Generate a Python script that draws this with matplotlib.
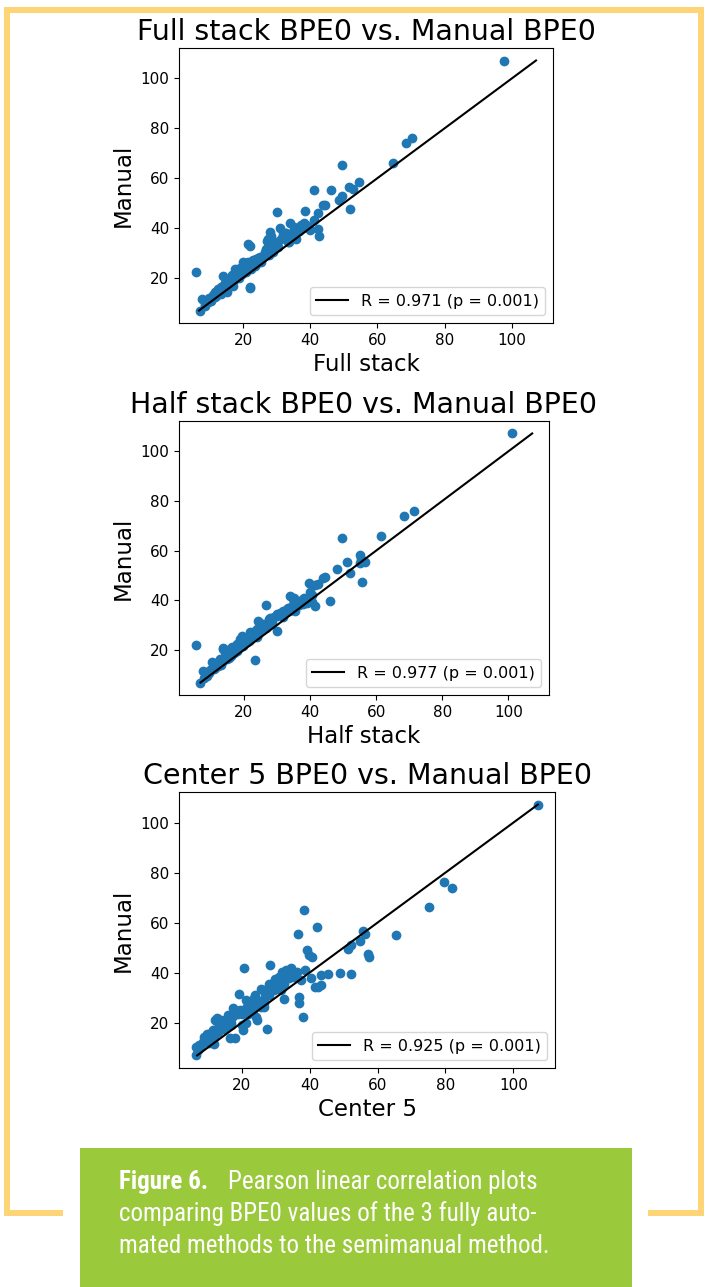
import matplotlib
matplotlib.use('Agg')
import matplotlib.pyplot as plt
from matplotlib import font_manager
from matplotlib.patches import Rectangle

plt.rcParams['font.family'] = 'DejaVu Sans'

# manual BPE0 (shared y values) and the three automated methods (x values)
manual = [
    # outliers / high values
    107.2, 76.1, 74.0, 66.1, 65.2, 58.4, 56.5, 55.5, 55.3, 55.1,
    52.8, 51.2, 49.4, 49.1, 47.5, 47.0, 46.4, 46.2,
    # 35 - 43
    43.2, 42.0, 41.9, 41.1, 41.1, 40.4, 40.4, 39.8, 39.6, 39.4,
    39.1, 39.1, 38.4, 38.3, 38.0, 37.8, 37.6, 36.9, 36.9, 36.4,
    35.7, 35.6, 35.6,
    # 27 - 35
    34.9, 34.3, 34.3, 34.3, 33.6, 33.1, 32.9, 32.9, 32.3, 31.6,
    31.1, 30.3, 30.3, 29.4, 28.9, 28.4, 28.3, 27.8, 27.8, 27.6, 27.1,
    # 19 - 27
    26.9, 26.3, 26.3, 26.3, 25.8, 25.1, 24.9, 24.9, 24.4, 23.8,
    23.6, 23.6, 23.6, 23.1, 22.4, 22.3, 22.2, 21.8, 21.6, 21.1,
    21.1, 20.9, 20.4, 20.4, 19.8, 19.6, 19.1,
    # below 19
    18.9, 18.4, 17.8, 17.6, 17.5, 17.1, 16.9, 16.9, 16.4, 16.3,
    15.8, 15.6, 15.1, 14.4, 14.3, 13.8, 13.8, 13.6, 13.1, 12.9,
    12.3, 11.8, 11.6, 11.1, 10.9, 10.4, 10.3, 9.7, 8.9, 6.9,
    # extra
    29.8, 31.0, 33.4, 29.0, 25.5, 24.0, 22.8, 21.5, 20.0, 18.0,
    15.0, 12.5, 36.0, 38.7, 40.0,
]

full_stack = [
    97.8, 70.3, 68.6, 64.7, 49.6, 54.4, 51.6, 52.8, 41.0, 46.1,
    49.6, 48.6, 43.7, 44.5, 51.9, 38.3, 30.2, 42.2,
    41.2, 34.1, 38.0, 37.3, 38.8, 35.3, 39.3, 30.9, 42.2, 36.5,
    39.8, 36.0, 27.9, 34.8, 32.5, 32.8, 31.9, 28.4, 42.5, 33.5,
    31.4, 27.4, 35.8,
    27.1, 29.9, 33.3, 33.8, 21.5, 28.5, 22.0, 27.9, 30.4, 26.9,
    29.0, 26.4, 28.9, 27.0, 25.9, 25.0, 26.0, 24.5, 25.5, 24.0, 23.0,
    23.0, 20.0, 21.5, 25.4, 22.8, 22.0, 20.5, 23.5, 21.0, 19.0,
    17.5, 19.5, 22.5, 20.2, 21.0, 19.0, 6.0, 17.6, 18.5, 16.8,
    18.3, 14.1, 16.6, 17.2, 18.0, 16.0, 17.2,
    16.1, 15.0, 14.5, 15.6, 14.8, 15.5, 14.1, 17.0, 13.5, 22.0,
    22.1, 12.6, 13.0, 11.6, 15.1, 12.8, 13.1, 13.5, 11.0, 12.1,
    11.1, 10.0, 7.7, 10.2, 10.6, 9.6, 9.5, 8.8, 8.6, 7.2,
    27.2, 28.0, 30.0, 27.8, 23.8, 21.8, 20.8, 19.8, 18.8, 16.5,
    14.0, 11.8, 33.0, 36.8, 37.8,
]

half_stack = [
    101.2, 71.4, 68.4, 61.5, 49.7, 55.2, 55.4, 56.8, 51.2, 55.0,
    48.2, 52.2, 44.7, 44.1, 55.8, 39.8, 42.4, 41.6,
    40.1, 40.5, 34.0, 35.2, 38.1, 35.0, 38.0, 37.1, 46.2, 40.6,
    36.0, 39.1, 35.5, 36.8, 26.8, 41.6, 34.5, 33.5, 34.8, 33.0,
    32.0, 33.8, 35.5,
    31.0, 30.0, 31.0, 32.0, 30.0, 29.0, 28.0, 28.5, 27.5, 24.4,
    27.5, 26.0, 25.5, 26.5, 25.9, 25.0, 24.0, 30.0, 24.5, 23.5, 21.9,
    22.4, 23.0, 22.5, 23.5, 19.4, 23.9, 22.0, 21.5, 18.9, 21.0,
    20.5, 21.5, 19.9, 20.9, 19.0, 18.0, 5.5, 17.9, 19.9, 17.5,
    16.5, 13.8, 15.9, 13.8, 18.0, 16.9, 14.3,
    16.9, 16.0, 15.3, 16.0, 15.0, 14.8, 14.0, 15.5, 12.8, 15.0,
    23.4, 12.5, 10.3, 11.5, 12.0, 11.8, 13.0, 12.2, 10.8, 11.3,
    10.5, 9.9, 7.8, 9.2, 9.5, 8.8, 8.5, 8.8, 7.9, 6.8,
    27.0, 28.5, 31.8, 26.8, 22.8, 21.3, 20.0, 18.8, 17.6, 15.8,
    13.5, 11.0, 34.8, 37.8, 38.6,
]

center_5 = [
    107.2, 79.7, 82.0, 75.1, 38.4, 42.1, 55.6, 56.2, 36.5, 65.5,
    54.8, 52.1, 51.4, 39.3, 57.2, 39.9, 57.4, 40.6,
    28.4, 20.8, 34.4, 33.0, 38.7, 32.0, 36.3, 48.9, 45.4, 52.1,
    43.5, 34.8, 31.0, 35.5, 33.9, 40.4, 29.8, 31.5, 37.5, 30.1,
    29.1, 28.1, 32.5,
    43.5, 42.5, 41.6, 31.0, 25.7, 29.6, 26.2, 31.5, 27.2, 19.3,
    28.1, 37.0, 27.0, 32.6, 21.4, 22.4, 24.8, 37.0, 26.7, 21.9, 23.5,
    21.9, 26.7, 25.7, 22.9, 17.6, 23.3, 20.9, 19.5, 20.5, 18.1,
    19.0, 20.0, 22.0, 16.0, 38.2, 24.3, 16.6, 12.8, 15.7, 24.5,
    12.3, 13.8, 14.7, 15.7, 21.4, 13.8, 20.0,
    17.0, 15.7, 13.0, 14.5, 27.4, 20.5, 12.0, 11.5, 11.4, 13.0,
    12.5, 9.9, 12.0, 9.0, 11.8, 16.6, 18.1, 10.5, 10.0, 9.5,
    8.5, 10.4, 11.9, 7.5, 8.0, 6.6, 7.4, 7.0, 7.2, 6.6,
    23.6, 24.0, 27.8, 24.5, 21.0, 19.8, 17.6, 17.0, 16.8, 14.0,
    11.0, 9.2, 31.8, 33.5, 35.0,
]

method_names = ['Full stack', 'Half stack', 'Center 5']
r_values = [0.971, 0.977, 0.925]
p_values = [0.001, 0.001, 0.001]

W, H = 707, 1287
fig = plt.figure(figsize=(W / 100, H / 100), dpi=100)
fig.patch.set_facecolor('white')

def box(x0, y0, x1, y1):
    # pixel box (top-left origin) -> figure fraction rect
    return [x0 / W, 1 - y1 / H, (x1 - x0) / W, (y1 - y0) / H]

# axes boxes in pixels
ax_boxes = [(179, 48, 553, 323), (179, 421, 549, 695), (179, 792, 555, 1068)]
xs = [full_stack, half_stack, center_5]

for i in range(3):
    ax = fig.add_axes(box(*ax_boxes[i]))
    ax.scatter(xs[i], manual, color='#1f77b4', s=36, zorder=2)
    lo, hi = min(manual), max(manual)
    ax.plot([lo, hi], [lo, hi], color='black', lw=1.5, zorder=3,
            label='R = %.3f (p = %.3f)' % (r_values[i], p_values[i]))
    ax.set_title('%s BPE0 vs. Manual BPE0' % method_names[i], fontsize=20.5)
    ax.set_xlabel(method_names[i], fontsize=16.5)
    ax.set_ylabel('Manual', fontsize=16.5)
    ax.tick_params(labelsize=11)
    ax.legend(loc='lower right', fontsize=11.5)

# yellow frame
yellow = '#fdd577'
for b in [(4, 7, 704, 13), (4, 7, 10, 1216), (698, 7, 704, 1216),
          (4, 1210, 63, 1216), (648, 1210, 704, 1216)]:
    r = box(*b)
    fig.patches.append(Rectangle((r[0], r[1]), r[2], r[3], transform=fig.transFigure,
                                 facecolor=yellow, edgecolor='none', zorder=0))

# green caption box
r = box(80, 1148, 632, 1287)
fig.patches.append(Rectangle((r[0], r[1]), r[2], r[3], transform=fig.transFigure,
                             facecolor='#9bc93c', edgecolor='none', zorder=0))

names = {f.name for f in font_manager.fontManager.ttflist}
cap_font = 'Lato'
for cand in ['Roboto Condensed', 'Liberation Sans Narrow', 'Open Sans Condensed', 'Lato']:
    if cand in names:
        cap_font = cand
        break

renderer = fig.canvas.get_renderer()
# size the caption font so the last line is ~427 px wide
probe = fig.text(0, 0, 'mated methods to the semimanual method.', family=cap_font, fontsize=10)
wid = probe.get_window_extent(renderer).width
probe.remove()
cap_size = 10 * 427 / wid

t1 = fig.text(119 / W, 1 - 1189 / H, 'Figure 6.', family=cap_font, fontweight='bold',
              fontsize=cap_size, color='white', va='baseline')
bb = t1.get_window_extent(renderer)
fig.text((bb.x1 + 20) / W, 1 - 1189 / H, 'Pearson linear correlation plots', family=cap_font,
         fontsize=cap_size, color='white', va='baseline')
fig.text(119 / W, 1 - 1221 / H, 'comparing BPE0 values of the 3 fully auto-', family=cap_font,
         fontsize=cap_size, color='white', va='baseline')
fig.text(119 / W, 1 - 1253 / H, 'mated methods to the semimanual method.', family=cap_font,
         fontsize=cap_size, color='white', va='baseline')

fig.savefig('out.png', dpi=100)
